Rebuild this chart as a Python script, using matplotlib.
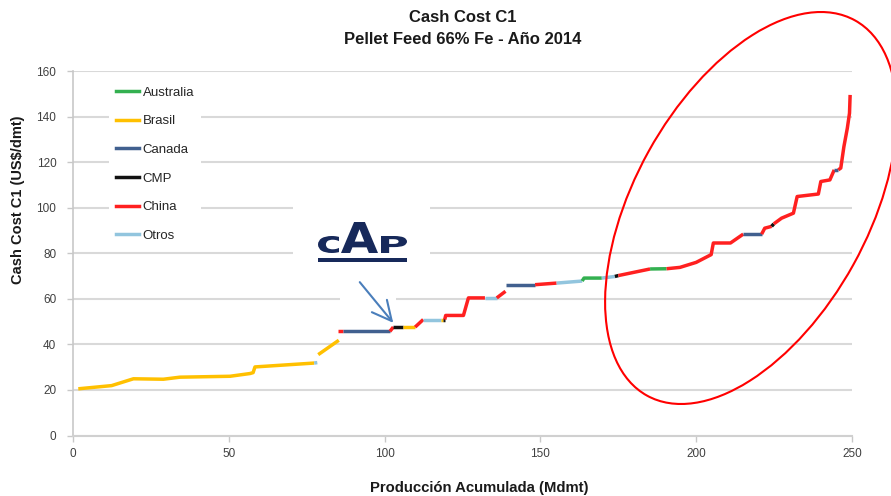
import matplotlib
matplotlib.use("Agg")
import matplotlib.pyplot as plt
from matplotlib.lines import Line2D
from matplotlib.patches import Rectangle, Ellipse, PathPatch, FancyArrowPatch
from matplotlib.textpath import TextPath
from matplotlib.font_manager import FontProperties
from matplotlib.transforms import IdentityTransform, Affine2D

plt.rcParams['font.family'] = ['Liberation Sans', 'DejaVu Sans']

# ---------------- data ----------------
countries = ["Australia", "Brasil", "Canada", "CMP", "China", "Otros"]
country_colors = ["#33b050", "#ffc000", "#41608f", "#111111", "#ff2020", "#92c5de"]

# cumulative production (Mdmt) and C1 cash cost (US$/dmt), curve vertices in order
curve_x = [1.7, 12.4, 19.4, 29.0, 34.3, 50.4, 56.8, 57.8, 58.4, 77.4,
           78.4, 78.7, 85.3, 85.2, 86.7, 101.7, 102.8, 106.0, 109.8, 112.4,
           118.2, 118.7, 119.3, 119.6, 125.3, 126.9, 132.2, 136.0, 138.8, 139.0,
           148.3, 155.2, 163.4, 164.0, 169.7, 173.9, 175.0, 185.2, 190.5, 194.8,
           200.0, 204.8, 205.5, 211.0, 215.1, 221.0, 222.0, 224.2, 224.9, 227.4,
           231.2, 232.4, 239.2, 240.0, 242.9, 244.3, 245.6, 246.4, 247.4, 248.5,
           249.2, 249.4]
curve_y = [20.5, 21.9, 24.9, 24.7, 25.6, 26.0, 27.2, 27.6, 30.1, 31.8,
           32.0, 35.5, 41.8, 45.7, 45.7, 45.7, 47.6, 47.6, 47.6, 50.9,
           50.9, 50.9, 50.9, 52.7, 52.7, 60.4, 60.4, 60.4, 63.3, 66.2,
           66.2, 66.9, 67.8, 69.1, 69.1, 69.8, 70.2, 73.1, 73.2, 73.8,
           76.0, 79.4, 84.5, 84.5, 88.4, 88.4, 91.0, 91.8, 92.9, 95.4,
           97.6, 104.9, 106.0, 111.5, 112.2, 116.6, 116.6, 117.4, 126.8, 134.9,
           141.5, 149.5]
# country of the segment that starts at each vertex (None = gap)
segment_country = ["Brasil", "Brasil", "Brasil", "Brasil", "Brasil", "Brasil", "Brasil", "Brasil", "Brasil", "Otros",
                   None, "Brasil", None, "China", "Canada", "China", "CMP", "Brasil", "China", "Otros",
                   "Brasil", "CMP", "China", "China", "China", "China", "Otros", "China", None, "Canada",
                   "China", "Otros", "Australia", "Australia", "Otros", "CMP", "China", "Australia", "China", "China",
                   "China", "China", "China", "China", "Canada", "China", "China", "CMP", "China", "China",
                   "China", "China", "China", "China", "China", "Canada", "China", "China", "China", "China",
                   "China"]

x_ticks = [0, 50, 100, 150, 200, 250]
y_ticks = [0, 20, 40, 60, 80, 100, 120, 140, 160]

title_lines = ["Cash Cost C1", "Pellet Feed 66% Fe - Año 2014"]
x_label = "Producción Acumulada (Mdmt)"
y_label = "Cash Cost C1 (US$/dmt)"

# ---------------- figure ----------------
W, H = 891, 496
fig = plt.figure(figsize=(W / 100, H / 100), dpi=100)
ax = fig.add_axes([73 / W, 1 - 435.5 / H, (852 - 73) / W, (435.5 - 71) / H])

color_of = dict(zip(countries, country_colors))

# group consecutive segments of the same country into polylines
i = 0
n = len(segment_country)
while i < n:
    c = segment_country[i]
    j = i
    while j + 1 < n and segment_country[j + 1] == c:
        j += 1
    if c is not None:
        ax.plot(curve_x[i:j + 2], curve_y[i:j + 2], color=color_of[c], lw=2.5,
                solid_capstyle='butt', solid_joinstyle='round', zorder=3)
    i = j + 1

ax.set_xlim(0, 250)
ax.set_ylim(0, 160)
ax.set_xticks(x_ticks)
ax.set_yticks(y_ticks)
ax.set_axisbelow(True)
ax.yaxis.grid(True, color='#d9d9d9', lw=1.5)
for s in ['top', 'right']:
    ax.spines[s].set_visible(False)
ax.spines['left'].set_color('#c8c8c8')
ax.spines['left'].set_linewidth(1.2)
ax.spines['bottom'].set_color('#d0d0d0')
ax.spines['bottom'].set_linewidth(1.5)
ax.tick_params(axis='y', colors='#c8c8c8', labelcolor='#404040', labelsize=8.5,
               length=4, width=1, pad=8)
ax.tick_params(axis='x', colors='#c8c8c8', labelcolor='#404040', labelsize=8.5,
               length=4, width=1, pad=5)

# white masks over gridlines (logo & arrow areas)
ax.add_patch(Rectangle((293, 496 - 278), 137, 88, transform=IdentityTransform(),
                       facecolor='white', edgecolor='none', zorder=1))
ax.add_patch(Rectangle((340, 496 - 306), 56, 14, transform=IdentityTransform(),
                       facecolor='white', edgecolor='none', zorder=1))

# legend
handles = [Line2D([], [], color=c, lw=2.5) for c in country_colors]
leg = ax.legend(handles, countries, loc='upper left',
                bbox_to_anchor=(109 / W, 1 - 80 / H), bbox_transform=fig.transFigure,
                frameon=True, facecolor='white', edgecolor='none', framealpha=1,
                fancybox=False, fontsize=9.5, handlelength=1.8, handletextpad=0.25,
                labelspacing=1.24, borderpad=0.5, borderaxespad=0)
for t in leg.get_texts():
    t.set_color('#262626')

# titles and labels
fig.text(462.5 / W, 1 - 18 / H, title_lines[0], ha='center', va='center',
         fontsize=12, fontweight='bold', color='#1a1a1a')
fig.text(462.5 / W, 1 - 40 / H, title_lines[1], ha='center', va='center',
         fontsize=12, fontweight='bold', color='#1a1a1a')
fig.text(479 / W, 1 - 488 / H, x_label, ha='center', va='center',
         fontsize=10.7, fontweight='bold', color='#1a1a1a')
fig.text(18 / W, 1 - 200 / H, y_label, ha='center', va='center', rotation=90,
         fontsize=10.5, fontweight='bold', color='#1a1a1a')

# CAP logo
logo_color = '#17295a'
bold = FontProperties(family='DejaVu Sans', weight='bold')


def glyph(s, x0, ytop, x1, ybot):
    tp = TextPath((0, 0), s, size=100, prop=bold)
    ext = tp.get_extents()
    tr = (Affine2D().translate(-ext.x0, -ext.y0)
          .scale((x1 - x0) / ext.width, (ybot - ytop) / ext.height)
          .translate(x0, H - ybot))
    fig.add_artist(PathPatch(tr.transform_path(tp), facecolor=logo_color, lw=0,
                             transform=IdentityTransform(), zorder=6))


glyph("c", 318, 236, 339, 253)
glyph("A", 341, 222, 378, 253)
glyph("P", 381, 236, 407, 253)
fig.add_artist(Rectangle((318, H - 262), 89, 4, facecolor=logo_color, lw=0,
                         transform=IdentityTransform(), zorder=6))

# arrow
fig.add_artist(FancyArrowPatch((358, H - 280), (395, H - 325),
                               arrowstyle='->,head_length=0.7,head_width=0.35',
                               mutation_scale=20, color='#4a7ebb', lw=1.5,
                               transform=IdentityTransform(), zorder=6))

# red ellipse highlight
fig.add_artist(Ellipse((751, H - 208), 429, 234, angle=61, fill=False,
                       edgecolor='#ff0000', lw=1.5, transform=IdentityTransform(),
                       zorder=6))

fig.savefig("out.png", dpi=100)
